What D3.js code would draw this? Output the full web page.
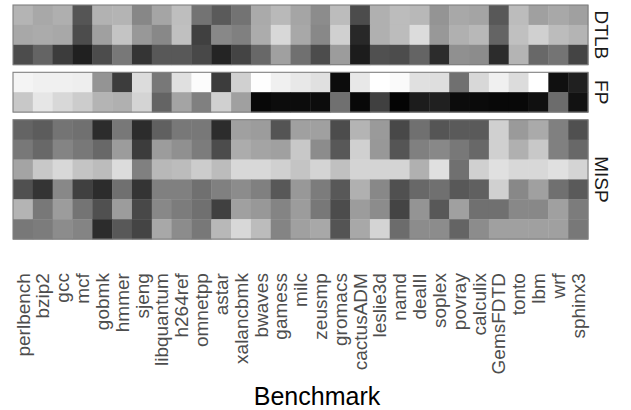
<!DOCTYPE html>
<html>
<head>
<meta charset="utf-8">
<script src="https://cdn.jsdelivr.net/npm/d3@7"></script>
<style>
  body { margin: 0; background: #fff; }
  svg { font-family: "Liberation Sans", Arial, Helvetica, sans-serif; }
</style>
</head>
<body>
<div id="chart"></div>
<script>
// benchmarks (columns)
const benchmarks = ["perlbench", "bzip2", "gcc", "mcf", "gobmk", "hmmer", "sjeng",
  "libquantum", "h264ref", "omnetpp", "astar", "xalancbmk", "bwaves", "gamess",
  "milc", "zeusmp", "gromacs", "cactusADM", "leslie3d", "namd", "dealII", "soplex",
  "povray", "calculix", "GemsFDTD", "tonto", "lbm", "wrf", "sphinx3"];

// shade levels (0 = black, 255 = white), one array per row
const dtlbRows = [
  [180, 168, 175, 85, 178, 180, 135, 165, 190, 115, 90, 115, 170, 185, 165, 140, 188, 76, 176, 188, 184, 148, 168, 164, 88, 188, 160, 168, 160],
  [168, 171, 168, 76, 160, 196, 152, 136, 192, 64, 136, 128, 172, 216, 168, 136, 208, 40, 176, 188, 220, 152, 176, 184, 100, 192, 208, 188, 180],
  [76, 100, 60, 32, 76, 120, 52, 88, 88, 72, 36, 68, 104, 160, 112, 76, 156, 28, 80, 76, 100, 44, 144, 140, 44, 180, 104, 116, 68]
];

const fpRows = [
  [244, 240, 240, 238, 148, 60, 220, 120, 224, 252, 60, 208, 254, 240, 232, 224, 12, 232, 255, 250, 224, 222, 112, 216, 240, 220, 255, 16, 32],
  [200, 230, 216, 204, 180, 176, 212, 100, 164, 128, 208, 160, 8, 12, 12, 12, 112, 8, 64, 4, 28, 32, 12, 10, 8, 8, 16, 108, 18]
];

const mispRows = [
  [100, 92, 116, 112, 44, 120, 44, 96, 120, 120, 44, 160, 156, 84, 160, 160, 76, 180, 154, 72, 112, 85, 90, 90, 208, 154, 170, 128, 80],
  [120, 104, 132, 120, 104, 156, 60, 156, 144, 124, 76, 172, 164, 160, 200, 140, 88, 208, 152, 85, 128, 136, 120, 104, 208, 176, 200, 128, 104],
  [164, 200, 216, 196, 188, 220, 128, 184, 188, 204, 188, 216, 216, 208, 196, 212, 192, 212, 212, 212, 176, 224, 112, 208, 224, 216, 216, 224, 212],
  [80, 52, 136, 64, 44, 112, 52, 128, 128, 112, 128, 140, 128, 88, 152, 124, 88, 176, 136, 80, 104, 112, 88, 96, 208, 136, 160, 112, 90],
  [180, 120, 156, 116, 80, 156, 72, 136, 124, 112, 64, 160, 152, 132, 156, 120, 76, 156, 140, 68, 148, 88, 160, 112, 112, 136, 136, 160, 124],
  [120, 124, 140, 132, 44, 88, 68, 168, 140, 120, 184, 216, 188, 132, 160, 168, 84, 168, 212, 108, 140, 140, 100, 140, 160, 160, 160, 160, 120]
];

const panelNames = ["DTLB", "FP", "MISP"];
const panelRows = [dtlbRows, fpRows, mispRows];

let margin = { top: 5, right: 43, bottom: 171, left: 13 };
let width = 631 - margin.left - margin.right;
let rowH = 19.9;
let gap = 7.6;

let svg = d3
  .select("#chart")
  .append("svg")
  .attr("width", 631)
  .attr("height", 410);

let g = svg
  .append("g")
  .attr("transform", "translate(" + margin.left + "," + margin.top + ")");

let x = d3.scaleBand().domain(benchmarks).range([0, width]);

let shade = d3.scaleLinear().domain([0, 255]).range(["#000000", "#ffffff"]);

let yOff = 0;
panelRows.forEach((rows, p) => {
  let h = rows.length * rowH;
  let y = d3
    .scaleBand()
    .domain(d3.range(rows.length))
    .range([0, h]);

  let panel = g.append("g").attr("transform", "translate(0," + yOff + ")");

  let cells = [];
  rows.forEach((vals, r) => {
    vals.forEach((v, c) => cells.push({ r: r, b: benchmarks[c], v: v }));
  });

  panel
    .selectAll("rect.cell")
    .data(cells)
    .enter()
    .append("rect")
    .attr("class", "cell")
    .attr("x", (d) => x(d.b))
    .attr("y", (d) => y(d.r))
    .attr("width", x.bandwidth() + 0.4)
    .attr("height", y.bandwidth() + 0.4)
    .attr("fill", (d) => shade(d.v));

  // panel border
  panel
    .append("rect")
    .attr("x", 0)
    .attr("y", 0)
    .attr("width", width)
    .attr("height", h)
    .attr("fill", "none")
    .attr("stroke", "#7f7f7f")
    .attr("stroke-width", 1.1);

  // strip label on the right
  panel
    .append("text")
    .attr("transform", "translate(" + (width + 14) + "," + h / 2 + ") rotate(90)")
    .attr("text-anchor", "middle")
    .attr("dy", "0.35em")
    .attr("font-size", "19px")
    .attr("fill", "#1a1a1a")
    .text(panelNames[p]);

  yOff += h + gap;
});

let plotBottom = yOff - gap;

// eje x
let xAxis = g
  .append("g")
  .attr("transform", "translate(0," + plotBottom + ")")
  .call(d3.axisBottom(x).tickSize(0));

xAxis.select(".domain").remove();
xAxis
  .selectAll("text")
  .attr("transform", "rotate(-90)")
  .attr("x", -34)
  .attr("y", 0)
  .attr("dy", "0.35em")
  .attr("text-anchor", "end")
  .attr("font-family", "Liberation Sans, Arial, Helvetica, sans-serif")
  .attr("font-size", "19px")
  .attr("fill", "#4d4d4d");

// titulo eje x
svg
  .append("text")
  .attr("x", 317)
  .attr("y", 405)
  .attr("text-anchor", "middle")
  .attr("font-size", "25px")
  .attr("fill", "#000")
  .text("Benchmark");
</script>
</body>
</html>
